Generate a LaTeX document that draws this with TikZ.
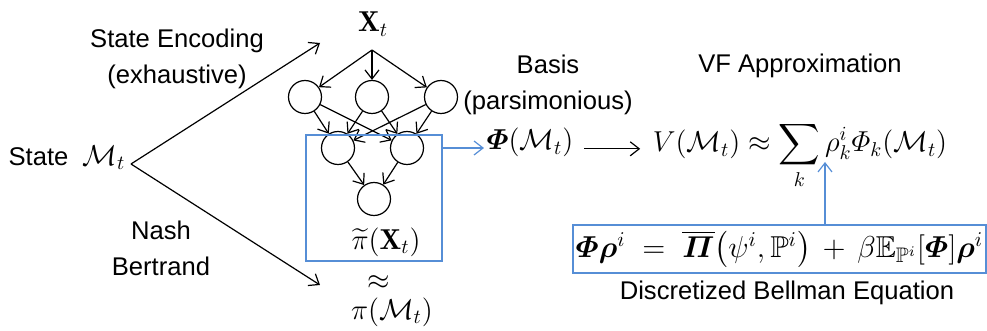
\documentclass[tikz,border=0pt]{standalone}
\usepackage{amsmath, amssymb}
\usepackage{fontspec}
\newfontfamily\arialfont{Liberation Sans}
\usepackage{tikz}
\usetikzlibrary{positioning, arrows.meta}
\usepackage{xcolor}
\definecolor{boxblue}{RGB}{86,142,214}

\begin{document}
\begin{tikzpicture}[x=0.5pt, y=-0.5pt, line width=0.6pt,
  >={Straight Barb[length=4.5pt,width=7pt]},
  lbl/.style={font=\arialfont\fontsize{12.8}{18}\selectfont, inner sep=1pt, align=center},
  eq/.style={font=\fontsize{14.4}{17}\selectfont, inner sep=1pt},
  neuron/.style={circle, draw, minimum size=16.5pt, inner sep=0pt},
  bluebox/.style={draw=boxblue, line width=0.8pt}]
  \useasboundingbox (0,0) rectangle (987,331);

  % state and the two ways out of it
  \node[lbl] (state) at (67,158) {State\ \ {\fontsize{14.4}{17}\selectfont$\mathcal{M}_t$}};
  \coordinate (fork) at (131,164);
  \coordinate (encEnd) at (320,43);
  \coordinate (nashEnd) at (320,285);
  \draw[->] (fork) -- (encEnd);
  \draw[->] (fork) -- (nashEnd);
  \node[lbl] (enc) at (177,59) {State Encoding\\(exhaustive)};
  \node[lbl] (nash) at (161,248) {Nash\\Bertrand};

  % network
  \node[eq] (xt) at (373,24) {$\mathbf{X}_t$};
  \coordinate (top) at (372,50);
  \foreach \i/\x in {1/305,2/372,3/441}
    \node[neuron] (h\i) at (\x,97) {};
  \foreach \j/\x in {1/338,2/407}
    \node[neuron] (g\j) at (\x,148) {};
  \node[neuron] (out) at (374,199) {};
  \foreach \i in {1,2,3} {
    \draw[->] (top) -- (h\i);
    \foreach \j in {1,2}
      \draw[->] (h\i) -- (g\j);
  }
  \foreach \j in {1,2}
    \draw[->] (g\j) -- (out);
  \node[bluebox, minimum width=68pt, minimum height=63pt, inner sep=0pt] (netbox) at (374,198) {};
  \node[eq] (pitilde) at (386,242) {$\widetilde{\pi}(\mathbf{X}_t)$};
  \node[eq] (approx) at (379,283) {$\approx$};
  \node[eq] (pim) at (392,312) {$\pi(\mathcal{M}_t)$};

  % basis and value function
  \node[lbl] (basis) at (548,85) {Basis\\(parsimonious)};
  \node[eq, anchor=base] (phi) at (530,150) {$\boldsymbol{\varPhi}(\mathcal{M}_t)$};
  \draw[->, boxblue] (netbox.east |- g2) -- (phi.west |- g2);
  \node[lbl] (vftitle) at (800,66) {VF Approximation};
  \node[eq, anchor=base] (vf) at (800,152)
    {$V(\mathcal{M}_t) \approx \displaystyle\sum_k \rho^i_k \varPhi_k(\mathcal{M}_t)$};
  \draw[->, shorten <=4pt, shorten >=5pt] ([yshift=-3pt]phi.east) -- ([yshift=-3pt]phi.east -| vf.west);

  % bellman equation
  \node[eq, bluebox, minimum width=206.5pt, minimum height=24pt, inner sep=0pt] (bellman) at (779.5,249)
    {\scalebox{1.05}{$\boldsymbol{\varPhi}\boldsymbol{\rho}^i \;=\; \overline{\boldsymbol{\varPi}}\bigl(\psi^i,\mathbb{P}^i\bigr) \,+\, \beta\mathbb{E}_{\mathbb{P}^i}[\boldsymbol{\varPhi}]\boldsymbol{\rho}^i$}};
  \coordinate (rhoFoot) at (825,162);
  \draw[->, boxblue] (rhoFoot |- bellman.north) -- (rhoFoot);
  \node[lbl] (bellcap) at (787,293) {Discretized Bellman Equation};
\end{tikzpicture}
\end{document}
